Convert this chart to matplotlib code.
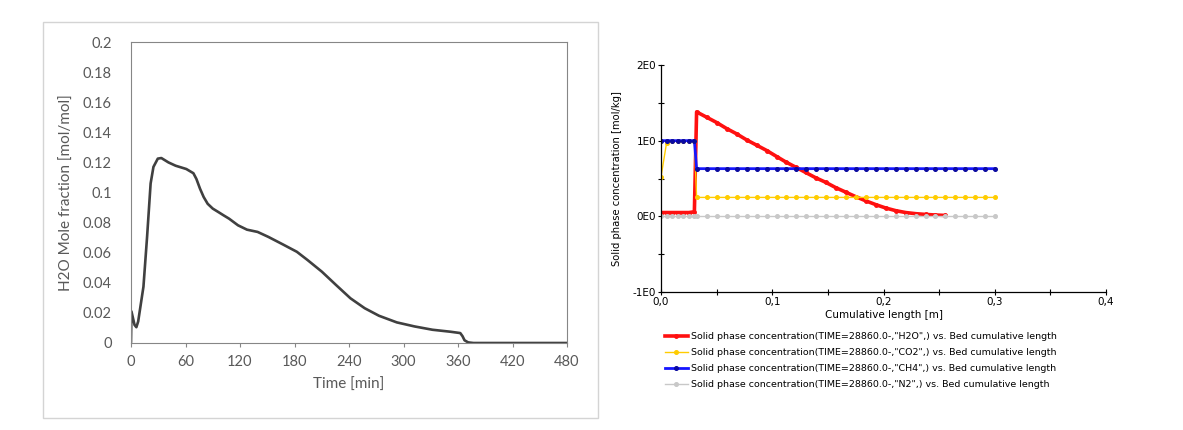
import matplotlib.pyplot as plt
import matplotlib.patches as mpatches
from matplotlib.ticker import FixedLocator, FuncFormatter

# Left chart: H2O mole fraction at the outlet vs time
time_min = [0, 0.5, 3.9, 5.9, 7.9, 13.7, 17.7, 21.6, 24.7, 29.5, 33.4, 41.2, 49.1,
            60.9, 68.7, 72.0, 76.0, 80.0, 84.4, 90.0, 96.2, 102.0, 108, 117.8, 127.7,
            139.4, 151.2, 166.9, 182.6, 194.4, 210.1, 225.8, 241.6, 257.3, 273, 292.6,
            312.2, 331.9, 351.5, 362.5, 365.0, 367.2, 371.2, 377, 420, 480]
h2o_frac = [0.001, 0.021, 0.012, 0.0105, 0.0143, 0.0374, 0.0705, 0.106, 0.117,
            0.1225, 0.1229, 0.120, 0.1178, 0.1156, 0.1128, 0.109, 0.1025, 0.097,
            0.0925, 0.0893, 0.087, 0.0848, 0.0826, 0.0782, 0.0753, 0.0738, 0.0705,
            0.0656, 0.0606, 0.0551, 0.0474, 0.0385, 0.0297, 0.0231, 0.0181, 0.0137,
            0.011, 0.0088, 0.0075, 0.0066, 0.0045, 0.0018, 0.0004, 0.0, 0.0, 0.0]

# Right chart: solid phase concentration along the bed (node positions, m)
bed_x = [0.0, 0.005, 0.010, 0.015, 0.020, 0.025, 0.030,
         0.032, 0.041, 0.050, 0.059, 0.068, 0.077, 0.086, 0.095, 0.104, 0.112,
         0.121, 0.130, 0.139, 0.148, 0.157, 0.166, 0.175, 0.184, 0.193, 0.202,
         0.211, 0.220, 0.229, 0.238, 0.246, 0.255, 0.264, 0.273, 0.282, 0.291, 0.300]
conc_h2o = [0.05, 0.05, 0.05, 0.05, 0.05, 0.05, 0.06,
            1.38, 1.31, 1.24, 1.16, 1.09, 1.01, 0.94, 0.87, 0.79, 0.72,
            0.65, 0.58, 0.51, 0.45, 0.38, 0.32, 0.26, 0.205, 0.155, 0.11,
            0.075, 0.05, 0.035, 0.025, 0.018, 0.012]
conc_co2 = [0.52, 0.97, 1.0, 1.0, 1.0, 1.0, 1.0] + [0.25] * 31
conc_ch4 = [1.0] * 7 + [0.63] * 31
conc_n2 = [0.0] * 38

series_names = ["H2O", "CO2", "CH4", "N2"]
series_colors = ["#FF1010", "#FFCC00", "#1515FF", "#C8C8C8"]

fig = plt.figure(figsize=(11.83, 4.30), dpi=100)

# outer frame of the Excel chart
fig.patches.append(mpatches.Rectangle((43 / 1183, 1 - 418 / 430), 555 / 1183, 396 / 430,
                                      transform=fig.transFigure, fill=False,
                                      edgecolor="#D4D4D4", linewidth=1.0))

# ---- left chart ----
grey_txt = "#595959"
ax1 = fig.add_axes([131 / 1183, 1 - 343 / 430, 436 / 1183, 301 / 430])
ax1.plot(time_min, h2o_frac, color="#404040", linewidth=1.9)
ax1.set_xlim(0, 480)
ax1.set_ylim(0, 0.2)
ax1.set_xticks(range(0, 481, 60))
ax1.set_yticks([i * 0.02 for i in range(11)])
ax1.yaxis.set_major_formatter(FuncFormatter(lambda v, p: ("%.2f" % v).rstrip("0").rstrip(".") if v else "0"))
for sp in ax1.spines.values():
    sp.set_color("#868686")
    sp.set_linewidth(0.8)
ax1.tick_params(axis="both", colors="#868686", labelcolor=grey_txt, labelsize=10.5,
                length=3, width=0.8)
ax1.tick_params(axis="y", length=0, pad=14)
ax1.tick_params(axis="x", pad=6)
for lbl in ax1.get_xticklabels() + ax1.get_yticklabels():
    lbl.set_family("Lato")
ax1.set_xlabel("Time [min]", color=grey_txt, fontsize=11, family="Lato", labelpad=6)
ax1.set_ylabel("H2O Mole fraction [mol/mol]", color=grey_txt, fontsize=11, family="Lato", labelpad=6)

# ---- right chart ----
ax2 = fig.add_axes([661 / 1183, 1 - 292 / 430, 445 / 1183, 227 / 430])
all_conc = [conc_h2o, conc_co2, conc_ch4, conc_n2]
widths = [2.6, 1.0, 2.0, 1.0]
msizes = [2.5, 2.6, 2.6, 2.6]
for name, vals, col, lw, ms in zip(series_names, all_conc, series_colors, widths, msizes):
    mcol = "#0A0AA0" if name == "CH4" else col
    ax2.plot(bed_x[:len(vals)], vals, color=col, linewidth=lw, marker="o", markersize=ms,
             markerfacecolor=mcol, markeredgecolor=mcol,
             label='Solid phase concentration(TIME=28860.0-,"%s",) vs. Bed cumulative length' % name)

ax2.set_xlim(0, 0.4)
ax2.set_ylim(-1, 2)
ax2.spines["top"].set_visible(False)
ax2.spines["right"].set_visible(False)
ax2.spines["left"].set_linewidth(0.9)
ax2.spines["bottom"].set_linewidth(0.9)
ax2.xaxis.set_major_locator(FixedLocator([0, 0.1, 0.2, 0.3, 0.4]))
ax2.xaxis.set_minor_locator(FixedLocator([0.05, 0.15, 0.25, 0.35]))
ax2.yaxis.set_major_locator(FixedLocator([-1, 0, 1, 2]))
ax2.yaxis.set_minor_locator(FixedLocator([-0.5, 0.5, 1.5]))
ax2.xaxis.set_major_formatter(FuncFormatter(lambda v, p: ("%.1f" % v).replace(".", ",")))
ax2.yaxis.set_major_formatter(FuncFormatter(lambda v, p: "%dE0" % round(v)))
ax2.tick_params(which="both", direction="inout", length=5, width=0.8, labelsize=7.5, pad=1)
ax2.set_xlabel("Cumulative length [m]", fontsize=7.5, labelpad=2)
ax2.set_ylabel("Solid phase concentration [mol/kg]", fontsize=7.2, labelpad=8)

fig.legend(loc="upper left", bbox_to_anchor=(665 / 1183, 1 - 332 / 430), frameon=False,
           fontsize=6.8, handlelength=2.4, handletextpad=0.4, labelspacing=0.75,
           borderpad=0, borderaxespad=0)

fig.savefig("out.png", dpi=100)
